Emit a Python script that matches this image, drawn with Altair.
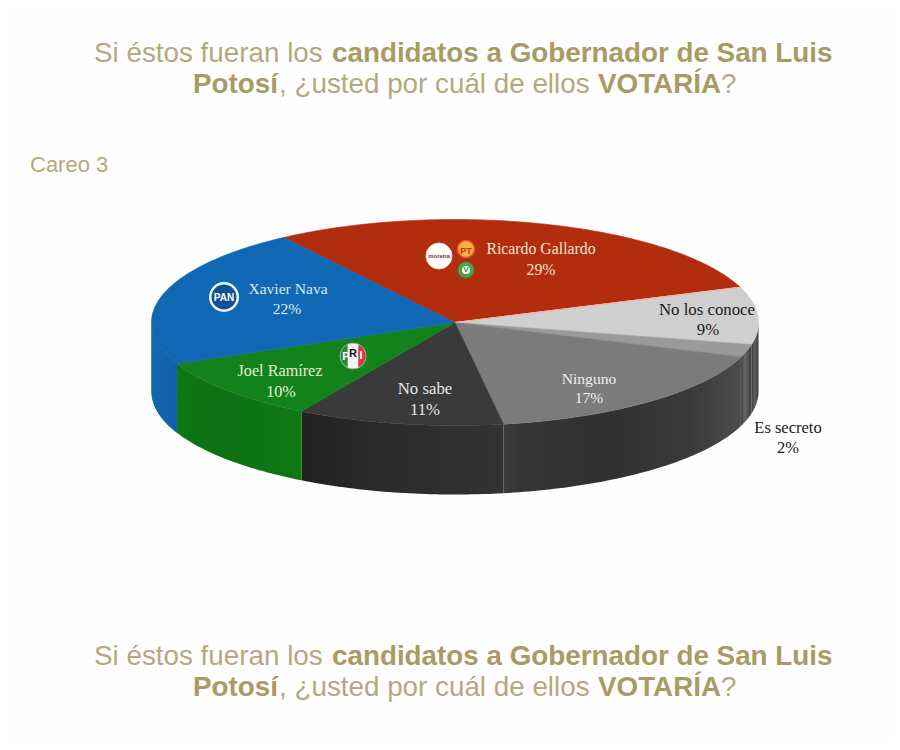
import math
import altair as alt
import pandas as pd

# ---- data ----
categories = ["Ricardo Gallardo", "No los conoce", "Es secreto", "Ninguno", "No sabe", "Joel Ramírez", "Xavier Nava"]
shares = [29, 9, 2, 17, 11, 10, 22]
percent_labels = ["29%", "9%", "2%", "17%", "11%", "10%", "22%"]
title_regular_1 = "Si éstos fueran los "
title_bold_1 = "candidatos a Gobernador de San Luis"
title_bold_2 = "Potosí"
title_regular_2 = ", ¿usted por cuál de ellos "
title_bold_3 = "VOTARÍA"
title_regular_3 = "?"
subtitle = "Careo 3"

# ---- styles & layout ----
OFF = 8
CX, CY, RX, RY, DEPTH = 455 - OFF, 322.5 - OFF, 303.5, 103, 69
START = -34.4
top_colors = ["#b22d0e", "#cfcfcf", "#9a9a9a", "#7b7b7b", "#3b3a3a", "#12821a", "#1068b5"]
label_colors = ["#f3e3d0", "#1a1a1a", "#1a1a1a", "#eeeeee", "#e6e6e6", "#e2efd6", "#dcebf7"]
label_sizes = [15.8, 16.8, 16.5, 15.6, 16.8, 16.2, 15.6]
label_pos = [(541, 249), (707, 310), (788, 428), (589, 379), (425, 389), (280, 371), (288, 289)]
pct_pos = [(541, 270), (708, 330), (788, 448), (589, 398), (425, 410), (281, 392), (287, 309)]
wall_stops = [
    None,
    [("#3a3a3a", 0), ("#5f5f5f", 0.5), ("#3f3f3f", 1)],
    [("#3a3a3a", 0), ("#666666", 0.6), ("#444444", 1)],
    [("#4c4c4c", 0), ("#3a3a3a", 0.22), ("#313131", 0.55), ("#353535", 0.93), ("#3c3c3c", 1)],
    [("#333333", 0), ("#2c2c2c", 0.5), ("#222222", 1)],
    [("#0e7a14", 0), ("#0d7012", 0.6), ("#0f7614", 1)],
    [("#1468b0", 0), ("#1060a6", 1)],
]
GOLD = "#b3a97f"
GOLD_BOLD = "#a99b64"
BG = "#fefefe"


def pt(a, dy=0.0):
    r = math.radians(a)
    return [CX + RX * math.sin(r), CY - RY * math.cos(r) + dy]


def arc(a0, a1, dy=0.0):
    n = max(2, int(abs(a1 - a0)) + 1)
    return [pt(a0 + (a1 - a0) * i / n, dy) for i in range(n + 1)]


def poly(points):
    return {"type": "Feature", "properties": {},
            "geometry": {"type": "Polygon", "coordinates": [points + [points[0]]]}}


PROJ = alt.Projection(type="identity", scale=1, translate=[0, 0])


def shape(points, fill, stroke=None, sw=0.6):
    kw = {"fill": fill}
    if stroke:
        kw.update(stroke=stroke, strokeWidth=sw)
    return alt.Chart(alt.Data(values=[poly(points)])).mark_geoshape(**kw).project(**PROJ.to_dict())


def grad(stops):
    return alt.Gradient(gradient="linear", x1=0, x2=1, y1=0, y2=0,
                        stops=[alt.GradientStop(color=c, offset=o) for c, o in stops])


bounds = []
acc = START
for s in shares:
    bounds.append((acc, acc + s * 3.6))
    acc += s * 3.6

layers = []
# side walls, visible between 90 and 270 degrees
for (a0, a1), stops, col in zip(bounds, wall_stops, top_colors):
    lo, hi = max(a0, 90), min(a1, 270)
    if hi <= lo or stops is None:
        continue
    st = stops if pt(lo)[0] < pt(hi)[0] else [(c, 1 - o) for c, o in reversed(stops)]
    layers.append(shape(arc(lo, hi) + arc(hi, lo, DEPTH), grad(st)))
# blue wall also wraps past 270 to the left edge
a0, a1 = bounds[-1]
layers.append(shape(arc(a0, 270) + arc(270, a0, DEPTH), grad(wall_stops[-1])))

# top faces
for (a0, a1), col in zip(bounds, top_colors):
    layers.append(shape([[CX, CY]] + arc(a0, a1), col, stroke=col))

# separator seen on the original
layers.append(shape([[CX, CY], pt(bounds[0][1])], "none", stroke="#e9b7a5", sw=1))


def text_layer(rows, font, size, weight="normal", align="center"):
    df = pd.DataFrame(rows, columns=["px", "py", "t", "c"])
    df["px"] -= OFF
    df["py"] -= OFF
    return alt.Chart(df).mark_text(font=font, fontSize=size, fontWeight=weight, align=align, baseline="middle").encode(
        x=alt.X("px:Q", scale=None, axis=None),
        y=alt.Y("py:Q", scale=None, axis=None),
        text="t:N",
        color=alt.Color("c:N", scale=None, legend=None),
    )


def dots(rows):
    df = pd.DataFrame(rows, columns=["px", "py", "r", "fill", "ring", "w"])
    df["px"] -= OFF
    df["py"] -= OFF
    df["sz"] = (2 * df["r"]) ** 2
    return alt.Chart(df).mark_point(filled=True, shape="circle", opacity=1).encode(
        x=alt.X("px:Q", scale=None, axis=None),
        y=alt.Y("py:Q", scale=None, axis=None),
        size=alt.Size("sz:Q", scale=None, legend=None),
        fill=alt.Fill("fill:N", scale=None, legend=None),
        stroke=alt.Stroke("ring:N", scale=None, legend=None),
        strokeWidth=alt.StrokeWidth("w:Q", scale=None, legend=None),
        order=alt.Order("r:Q", sort="descending"),
    )


# party marks
layers.append(dots([
    (224, 297, 15, "#f4f8fc", "#f4f8fc", 0),
    (224, 297, 12.5, "#12509e", "#12509e", 0),
    (353, 356, 13, "#f4f4f4", "#a8a8a8", 1),
    (439, 256, 13, "#ffffff", "#f2d8d0", 1),
    (466, 249, 8.5, "#f2b53a", "#e8582a", 1.5),
    (466, 270, 8, "#4ea34a", "#3d8f3a", 1),
    (466, 270, 4, "#ffffff", "#ffffff", 0),
]))


# tricolour sides of the PRI mark
def chord_piece(cx, cy, r, a0, a1):
    pts = []
    n = 24
    for i in range(n + 1):
        t = math.radians(a0 + (a1 - a0) * i / n)
        pts.append([cx - OFF + r * math.sin(t), cy - OFF - r * math.cos(t)])
    return pts


layers.append(shape(chord_piece(353, 356, 12.5, 205, 335), "#2a8a3c"))
layers.append(shape(chord_piece(353, 356, 12.5, 25, 155), "#d33a3a"))
layers.append(text_layer([(224, 297.5, "PAN", "#ffffff")], "Liberation Sans", 10, "bold"))
layers.append(text_layer([
    (346, 357, "P", "#ffffff"), (353, 354, "R", "#111111"), (361, 356, "I", "#ffffff"),
], "Liberation Sans", 11, "bold"))
layers.append(text_layer([(439, 256, "morena", "#8a2a2a")], "Liberation Sans", 6, "bold"))
layers.append(text_layer([(466, 251, "PT", "#c8321c")], "Liberation Sans", 9, "bold"))
layers.append(text_layer([(466, 270, "V", "#2f8a36")], "Liberation Sans", 8, "bold"))

# slice labels
for p, q, n, v, c, s in zip(label_pos, pct_pos, categories, percent_labels, label_colors, label_sizes):
    layers.append(text_layer([(p[0], p[1], n, c), (q[0], q[1], v, c)], "Liberation Serif", s))

# headings
for y1, y2 in [(54, 85), (657, 688)]:
    layers.append(text_layer([
        (94, y1, title_regular_1, GOLD), (279, y2, title_regular_2, GOLD), (721, y2, title_regular_3, GOLD),
    ], "Liberation Sans", 27.8, align="left"))
    layers.append(text_layer([
        (332, y1, title_bold_1, GOLD_BOLD), (193, y2, title_bold_2, GOLD_BOLD), (598, y2, title_bold_3, GOLD_BOLD),
    ], "Liberation Sans", 27.8, "bold", align="left"))
layers.append(text_layer([(30, 165, subtitle, GOLD)], "Liberation Sans", 22, align="left"))

chart = alt.layer(*layers).properties(
    width=884, height=734, background=BG, padding=0,
    autosize=alt.AutoSizeParams(type="none"),
).configure_view(stroke=None)

chart.save("out.html", embed_options={"renderer": "svg", "actions": False})
